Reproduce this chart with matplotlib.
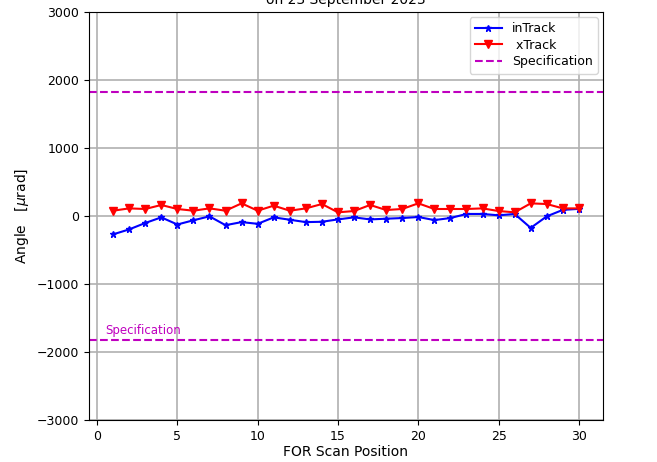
import matplotlib
matplotlib.use("Agg")
import matplotlib.pyplot as plt
import numpy as np

# FOR scan positions and pointing angles (micro-radians)
scan_pos = list(range(1, 31))
in_track = [-270, -197, -103, -20, -125, -63, -5, -135, -90, -115,
            -20, -55, -90, -85, -50, -20, -50, -40, -30, -15,
            -60, -30, 30, 30, 10, 30, -175, -5, 90, 105]
x_track = [78, 112, 103, 162, 103, 78, 112, 78, 186, 78,
           152, 78, 112, 176, 54, 73, 162, 88, 103, 186,
           103, 103, 103, 112, 73, 54, 186, 176, 112, 112]
spec_limit = 1820

fig = plt.figure(figsize=(6.57, 4.62), dpi=100)
ax = fig.add_axes([89 / 657, 1 - 420 / 462, (603 - 89) / 657, (420 - 12) / 462])

ax.plot(scan_pos, in_track, color="blue", marker="*", markersize=5, linewidth=1.5, label="inTrack")
ax.plot(scan_pos, x_track, color="red", marker="v", markersize=6, linewidth=1.5, label=" xTrack")
ax.axhline(spec_limit, color="m", linestyle="--", linewidth=1.5, label="Specification")
ax.axhline(-spec_limit, color="m", linestyle="--", linewidth=1.5)
ax.text(0.5, -spec_limit + 40, "Specification", color="m", fontsize=8.5, va="bottom")

ax.set_xlim(-0.5, 31.5)
ax.set_ylim(-3000, 3000)
ax.set_xticks([0, 5, 10, 15, 20, 25, 30])
ax.set_yticks(np.arange(-3000, 3001, 1000))
ax.tick_params(labelsize=9)
ax.grid(True, color="#b0b0b0", linewidth=1.2)
ax.set_xlabel("FOR Scan Position", fontsize=10, labelpad=2)
ax.set_ylabel(r"Angle   [$\mu$rad]", fontsize=10)
ax.set_title("Instrument Pointing Knowledge\non 23 September 2023", fontsize=10)
ax.legend(loc="upper right", fontsize=9, framealpha=0.8, borderaxespad=0.4,
          labelspacing=0.3, handlelength=2.2)

fig.savefig("out.png", dpi=100)
